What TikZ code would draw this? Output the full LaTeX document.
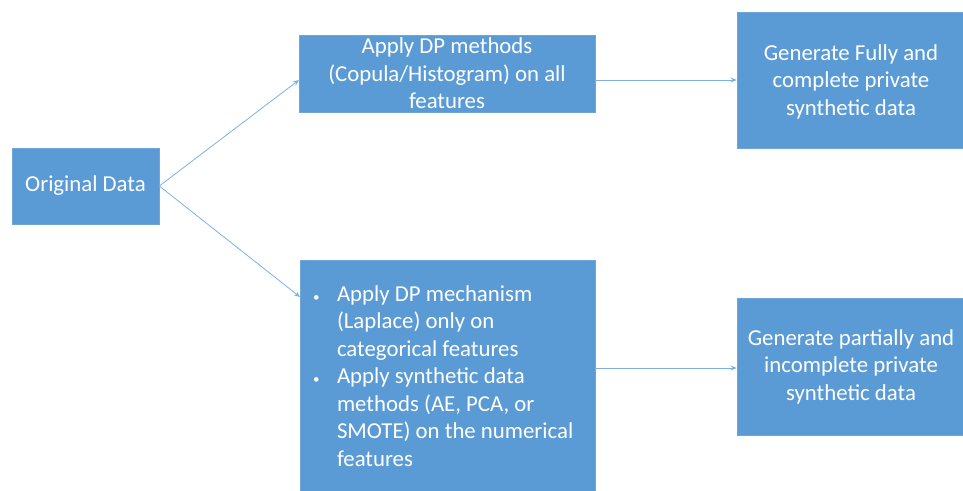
\documentclass[tikz,border=0pt]{standalone}
\usepackage{fontspec}
\setmainfont{Carlito}
\usetikzlibrary{arrows.meta}
\definecolor{boxblue}{HTML}{5B9BD5}
\definecolor{boxedge}{HTML}{6FA6D8}
\definecolor{arrowblue}{HTML}{7FB0E0}
\newcommand{\mybul}{\makebox[25pt][l]{\hspace{1pt}{\fontsize{13}{13}\selectfont\textbullet}}}
\begin{document}
\begin{tikzpicture}[x=1pt,y=-1pt,
  box/.style={fill=boxblue,draw=boxedge,line width=0.6pt,text=white,
    font=\fontsize{22.8}{27.5}\selectfont,align=center,inner sep=0pt},
  conn/.style={draw=arrowblue,line width=0.8pt,-{Stealth[length=6pt,width=5pt]}}]
\useasboundingbox (0,0) rectangle (963,490);
\node[box,minimum width=147pt,minimum height=76pt] (orig) at (85.5,186) {Original Data};
\node[box,minimum width=296pt,minimum height=77pt] (tm) at (447,73.5) {Apply DP methods\\(Copula/Histogram) on all\\features};
\node[box,minimum width=228pt,minimum height=136pt,text depth=0pt] (tr) at (851,80) {\raisebox{0pt}{}Generate Fully and\\complete private\\synthetic data};
\node[box,minimum width=295pt,minimum height=232pt,align=flush left,text width=271pt,inner xsep=12pt] (bm) at (447.5,376) {%
\mybul Apply DP mechanism\\
\hspace*{25pt}(Laplace) only on\\
\hspace*{25pt}categorical features\\
\mybul Apply synthetic data\\
\hspace*{25pt}methods (AE, PCA, or\\
\hspace*{25pt}SMOTE) on the numerical\\
\hspace*{25pt}features};
\node[box,minimum width=228pt,minimum height=137pt] (br) at (851,366.5) {Generate partially and\\incomplete private\\synthetic data};
\coordinate (tmin) at (299,80);
\coordinate (bmin) at (300,297);
\coordinate (bmout) at (595,368);
\draw[conn] (orig.east) -- (tmin);
\draw[conn] (orig.east) -- (bmin);
\draw[conn] (tm.east |- tmin) -- (tr.west |- tmin);
\draw[conn] (bm.east |- bmout) -- (br.west |- bmout);
\end{tikzpicture}
\end{document}
